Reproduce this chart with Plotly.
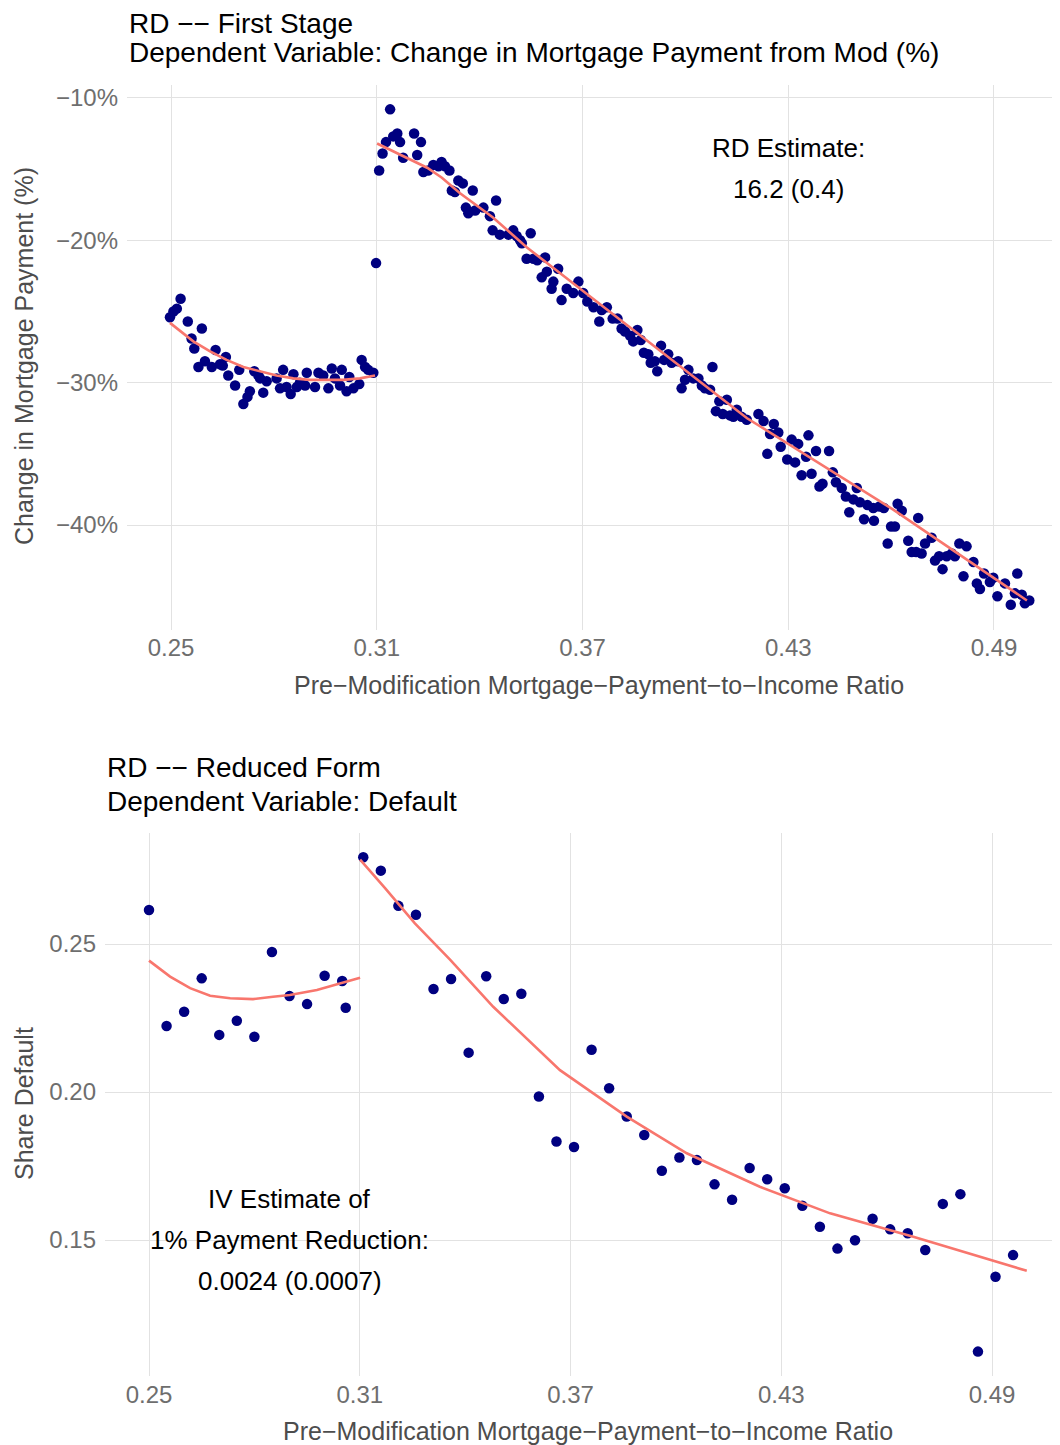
import plotly.graph_objects as go

# ---------------- data: first stage (top panel) ----------------
top_left_x = [0.2497,0.2507,0.2517,0.2528,0.2549,0.2560,0.2568,0.2580,0.2590,0.2599,0.2619,0.2630,0.2643,0.2651,0.2660,0.2667,0.2687,0.2699,0.2711,0.2723,0.2730,0.2743,0.2755,0.2760,0.2769,0.2779,0.2808,0.2818,0.2827,0.2837,0.2849,0.2857,0.2867,0.2876,0.2891,0.2896,0.2920,0.2930,0.2944,0.2959,0.2969,0.2978,0.2993,0.2998,0.3012,0.3020,0.3032,0.3049,0.3056,0.3066,0.3075,0.3090,0.3098]
top_left_y = [-25.4,-25.0,-24.8,-24.1,-25.7,-26.9,-27.6,-28.9,-26.2,-28.5,-28.9,-27.7,-28.7,-28.8,-28.2,-29.5,-30.2,-29.1,-31.5,-31.0,-30.6,-29.2,-29.5,-29.7,-30.7,-29.9,-29.7,-30.4,-29.1,-30.3,-30.8,-29.4,-30.3,-30.0,-30.2,-29.3,-30.3,-29.3,-29.5,-30.4,-29.0,-29.7,-30.2,-29.1,-30.6,-29.6,-30.4,-30.1,-28.4,-28.9,-29.1,-29.3,-21.6]

top_right_x = [0.3107,0.3117,0.3127,0.3139,0.3148,0.3160,0.3168,0.3177,0.3209,0.3218,0.3229,0.3236,0.3250,0.3265,0.3280,0.3289,0.3299,0.3312,0.3319,0.3328,0.3338,0.3351,0.3360,0.3367,0.3380,0.3387,0.3411,0.3430,0.3438,0.3448,0.3459,0.3484,0.3498,0.3508,0.3518,0.3523,0.3537,0.3549,0.3557,0.3568,0.3581,0.3591,0.3596,0.3610,0.3615,0.3629,0.3639,0.3654,0.3673,0.3688,0.3702,0.3714,
               0.3732,0.3749,0.3756,0.3771,0.3788,0.3802,0.3814,0.3824,0.3839,0.3848,0.3860,0.3870,0.3879,0.3892,0.3899,0.3911,0.3918,0.3929,0.3938,0.3950,0.3960,0.3979,0.3989,0.3999,0.4009,0.4023,0.4038,0.4048,0.4057,0.4072,0.4079,0.4089,0.4099,0.4109,0.4121,0.4130,0.4140,0.4150,0.4164,0.4179,0.4213,
               0.4228,0.4239,0.4247,0.4258,0.4271,0.4278,0.4297,0.4310,0.4320,0.4329,0.4339,0.4352,0.4359,0.4368,0.4381,0.4391,0.4400,0.4419,0.4430,0.4439,0.4456,0.4468,0.4478,0.4490,0.4500,0.4509,0.4521,0.4531,0.4548,0.4550,0.4566,0.4579,0.4590,0.4600,0.4611,0.4619,0.4631,0.4650,0.4660,0.4673,0.4679,0.4689,0.4699,0.4718,0.4728,0.4740,0.4750,0.4762,0.4777,0.4786,0.4799,0.4811,0.4820,0.4840,0.4850,0.4859,0.4871,0.4888,0.4898,0.4910,0.4932,0.4949,0.4961,0.4968,0.4981,0.4990,0.5003]
top_right_y = [-15.1,-13.9,-13.1,-10.8,-12.7,-12.5,-13.1,-14.2,-12.5,-14.0,-13.1,-15.2,-15.1,-14.7,-14.8,-14.5,-14.8,-15.1,-16.5,-16.6,-15.8,-16.0,-17.7,-18.1,-16.5,-17.9,-17.7,-18.3,-19.3,-17.2,-19.6,-19.6,-19.3,-19.7,-20.0,-20.2,-21.3,-19.5,-21.3,-21.4,-22.6,-21.2,-22.2,-23.4,-22.9,-22.0,-24.2,-23.4,-23.7,-22.9,-23.7,-24.3,
               -24.7,-25.7,-24.9,-24.7,-25.5,-25.5,-26.2,-26.4,-26.7,-27.1,-26.3,-27.0,-27.9,-28.0,-28.6,-28.5,-29.2,-27.4,-28.4,-28.0,-28.6,-28.5,-30.4,-29.8,-29.1,-29.7,-29.7,-30.2,-30.4,-30.5,-28.9,-32.0,-31.3,-32.2,-31.2,-32.3,-32.4,-31.9,-32.4,-32.6,-32.2,
               -32.7,-35.0,-33.6,-32.9,-33.5,-34.5,-35.4,-34.0,-35.6,-34.3,-36.5,-35.2,-33.7,-36.4,-34.8,-37.3,-37.1,-34.8,-36.3,-37.0,-37.4,-38.0,-39.1,-38.2,-37.4,-38.4,-39.6,-38.6,-38.8,-39.7,-38.7,-38.8,-41.3,-40.1,-40.1,-38.5,-39.0,-41.1,-41.9,-41.9,-39.5,-42.0,-41.3,-40.9,-42.5,-42.2,-43.1,-42.2,-42.0,-42.2,-41.3,-43.6,-41.5,-42.6,-44.1,-44.5,-43.4,-44.0,-43.7,-45.0,-44.1,-45.6,-44.8,-43.4,-44.9,-45.5,-45.3]

top_fit_left_x = [0.2497,0.2565,0.2614,0.2662,0.2711,0.2760,0.2808,0.2857,0.2905,0.2954,0.3002,0.3051,0.3095]
top_fit_left_y = [-25.8,-27.1,-27.8,-28.4,-28.9,-29.2,-29.5,-29.7,-29.8,-29.8,-29.8,-29.7,-29.5]
top_fit_right_x = [0.3101,0.3177,0.3247,0.3290,0.3343,0.3439,0.3538,0.3634,0.3897,0.4180,0.4605,0.4996]
top_fit_right_y = [-13.2,-14.1,-14.9,-15.6,-16.7,-18.4,-20.5,-22.3,-27.2,-32.5,-38.9,-45.3]

# ---------------- data: reduced form (bottom panel) ----------------
bot_left_x = [0.250,0.255,0.260,0.265,0.270,0.275,0.280,0.285,0.290,0.295,0.300,0.305,0.306]
bot_left_y = [0.2615,0.2223,0.2271,0.2384,0.2193,0.2241,0.2187,0.2473,0.2324,0.2297,0.2393,0.2375,0.2285]
bot_right_x = [0.311,0.316,0.321,0.326,0.331,0.336,0.341,0.346,0.351,0.356,0.361,0.366,0.371,0.376,0.381,0.386,0.391,0.396,0.401,
               0.406,0.411,0.416,0.421,0.426,0.431,0.436,0.441,0.446,0.451,0.456,0.461,0.466,0.471,0.476,0.481,0.486,0.491,0.496]
bot_right_y = [0.2793,0.2748,0.2629,0.2599,0.2348,0.2382,0.2133,0.2391,0.2314,0.2332,0.1985,0.1833,0.1814,0.2143,0.2013,0.1917,0.1855,0.1734,0.1779,
               0.1770,0.1688,0.1636,0.1743,0.1705,0.1675,0.1616,0.1545,0.1471,0.1499,0.1572,0.1536,0.1523,0.1466,0.1622,0.1655,0.1123,0.1376,0.1449]

bot_fit_left_x = [0.2500,0.2560,0.2617,0.2674,0.2731,0.2796,0.2853,0.2901,0.2978,0.3035,0.3101]
bot_fit_left_y = [0.2444,0.2390,0.2351,0.2325,0.2317,0.2314,0.2322,0.2328,0.2345,0.2365,0.2386]
bot_fit_right_x = [0.3101,0.3172,0.3257,0.3357,0.3480,0.3670,0.3860,0.4031,0.4239,0.4439,0.4676,0.4894,0.4999]
bot_fit_right_y = [0.2785,0.2689,0.2570,0.2447,0.2288,0.2074,0.1917,0.1793,0.1680,0.1590,0.1511,0.1435,0.1396]

x_ticks = [0.25, 0.31, 0.37, 0.43, 0.49]
x_tick_text = ["0.25", "0.31", "0.37", "0.43", "0.49"]
top_y_ticks = [-10, -20, -30, -40]
top_y_tick_text = ["\u221210%", "\u221220%", "\u221230%", "\u221240%"]
bot_y_ticks = [0.15, 0.20, 0.25]
bot_y_tick_text = ["0.15", "0.20", "0.25"]

# ---------------- styling ----------------
# the page body has an 8px margin, so the figure is drawn 8px in from the window edge
OFF = 8
W, H = 1060 - OFF, 1445 - OFF
FONT = "Liberation Sans, Arial, Helvetica, sans-serif"
POINT = "#000080"
LINE = "#F8766D"
GRID = "#E2E2E2"
TICK_COL = "#6E6E6E"
AXT_COL = "#4D4D4D"

fig = go.Figure()

mk = dict(color=POINT, size=10.5)
ln = dict(color=LINE, width=2.6)

fig.add_trace(go.Scatter(x=top_left_x + top_right_x, y=top_left_y + top_right_y, mode="markers",
                         marker=mk, xaxis="x", yaxis="y", showlegend=False))
fig.add_trace(go.Scatter(x=top_fit_left_x, y=top_fit_left_y, mode="lines", line=ln,
                         xaxis="x", yaxis="y", showlegend=False))
fig.add_trace(go.Scatter(x=top_fit_right_x, y=top_fit_right_y, mode="lines", line=ln,
                         xaxis="x", yaxis="y", showlegend=False))

fig.add_trace(go.Scatter(x=bot_left_x + bot_right_x, y=bot_left_y + bot_right_y, mode="markers",
                         marker=mk, xaxis="x2", yaxis="y2", showlegend=False))
fig.add_trace(go.Scatter(x=bot_fit_left_x, y=bot_fit_left_y, mode="lines", line=ln,
                         xaxis="x2", yaxis="y2", showlegend=False))
fig.add_trace(go.Scatter(x=bot_fit_right_x, y=bot_fit_right_y, mode="lines", line=ln,
                         xaxis="x2", yaxis="y2", showlegend=False))

def px_x(p):
    return (p - OFF) / W

def px_y(p):
    return 1 - (p - OFF) / H

axis_common = dict(showgrid=True, gridcolor=GRID, gridwidth=1.3, zeroline=False, showline=False,
                   ticks="", tickfont=dict(family=FONT, size=24, color=TICK_COL))

fig.update_layout(
    width=W, height=H,
    margin=dict(l=0, r=0, t=0, b=0),
    paper_bgcolor="white", plot_bgcolor="white",
    xaxis=dict(domain=[px_x(127), 1.0], range=[0.23717, 0.50925], anchor="y",
               tickvals=x_ticks, ticktext=x_tick_text, ticklabelstandoff=1, **axis_common),
    yaxis=dict(domain=[px_y(629.5), px_y(84.6)], range=[-47.34, -9.06], anchor="x",
               tickvals=top_y_ticks, ticktext=top_y_tick_text, ticklabelstandoff=8, **axis_common),
    xaxis2=dict(domain=[px_x(105), 1.0], range=[0.23747, 0.50936], anchor="y2",
                tickvals=x_ticks, ticktext=x_tick_text, ticklabelstandoff=2, **axis_common),
    yaxis2=dict(domain=[px_y(1376.3), px_y(832.6)], range=[0.10395, 0.28765], anchor="x2",
                tickvals=bot_y_ticks, ticktext=bot_y_tick_text, ticklabelstandoff=8, **axis_common),
)

def txt(text, x, y, size, color="black", xanchor="left", angle=0, xref="paper", yref="paper"):
    fig.add_annotation(text=text, x=x, y=y, xref=xref, yref=yref, xanchor=xanchor, yanchor="middle",
                       showarrow=False, textangle=angle,
                       font=dict(family=FONT, size=size, color=color))

# titles
txt("RD \u2212\u2212 First Stage", px_x(127), px_y(23), 28)
txt("Dependent Variable: Change in Mortgage Payment from Mod (%)", px_x(127), px_y(53), 28)
txt("RD \u2212\u2212 Reduced Form", px_x(105), px_y(768), 28)
txt("Dependent Variable: Default", px_x(105), px_y(801), 28)

# axis titles
xlab = "Pre\u2212Modification Mortgage\u2212Payment\u2212to\u2212Income Ratio"
txt(xlab, px_x(599), px_y(685), 25, AXT_COL, xanchor="center")
txt(xlab, px_x(588), px_y(1431), 25, AXT_COL, xanchor="center")
txt("Change in Mortgage Payment (%)", px_x(24), px_y(356), 25, AXT_COL, xanchor="center", angle=-90)
txt("Share Default", px_x(24), px_y(1104), 25, AXT_COL, xanchor="center", angle=-90)

# in-panel annotations (data coordinates)
txt("RD Estimate:", 0.43, -13.5, 26, xanchor="center", xref="x", yref="y")
txt("16.2 (0.4)", 0.43, -16.4, 26, xanchor="center", xref="x", yref="y")
txt("IV Estimate of", 0.29, 0.1639, 26, xanchor="center", xref="x2", yref="y2")
txt("1% Payment Reduction:", 0.29, 0.1500, 26, xanchor="center", xref="x2", yref="y2")
txt("0.0024 (0.0007)", 0.29, 0.1361, 26, xanchor="center", xref="x2", yref="y2")

fig.write_html("out.html")
